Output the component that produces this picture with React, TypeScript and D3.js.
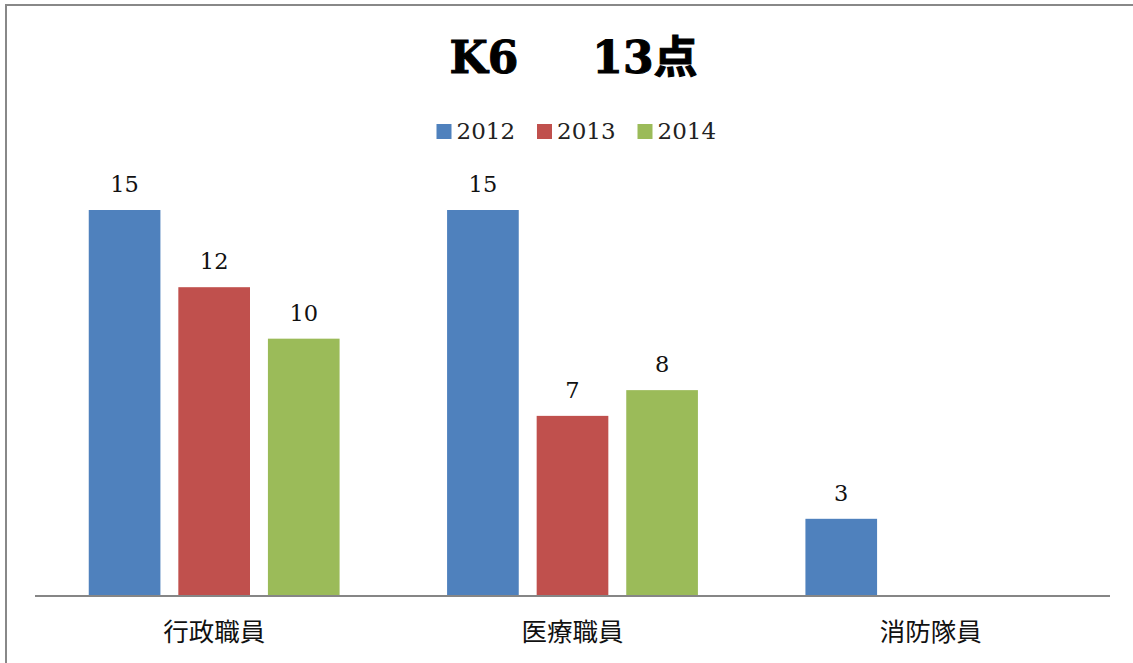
import React from 'react';
import * as d3 from 'd3';

const categories = ['行政職員', '医療職員', '消防隊員'];
const years = ['2012', '2013', '2014'];
const values2012 = [15, 15, 3];
const values2013 = [12, 7, null];
const values2014 = [10, 8, null];
const colors = ['#4F81BD', '#C0504D', '#9BBB59'];

const serif = '"DejaVu Serif", "Noto Sans CJK JP", serif';
const sans = '"Noto Sans CJK JP", "Noto Sans", sans-serif';

export default function App() {
  const width = 1133, height = 663;
  const series = [values2012, values2013, values2014];

  // chart area
  const left = 35, right = 1110, base = 596;

  const x = d3.scaleBand().domain(categories).range([left, right]).padding(0);
  const xs = d3.scaleBand().domain(years).range([0, x.bandwidth()])
    .paddingInner(0.2).paddingOuter(0.6);
  const y = d3.scaleLinear().domain([0, 15]).range([base, 210]);

  const mid = (left + right) / 2;
  const legendStep = 100.5;

  return (
    <svg width={width} height={height}
      style={{ position: 'fixed', left: 0, top: 0, background: '#fff' }}>
      <rect x={6} y={5} width={1140} height={700} fill="#fff" stroke="#888" strokeWidth={2} />

      {/* title */}
      <text x={mid + 1} y={73} textAnchor="middle" fontFamily={serif}
        fontWeight="bold" fontSize={44} stroke="#000" strokeWidth={1}>
        <tspan>K6</tspan>
        <tspan dx={74}>13点</tspan>
      </text>

      {/* legend */}
      {years.map((yr, i) => {
        const lx = mid - 136 + i * legendStep;
        return (
          <g key={yr} transform={`translate(${lx},0)`}>
            <rect x={0} y={124} width={15} height={15} fill={colors[i]} />
            <text x={20} y={139} fontFamily={serif} fontSize={23} fill="#222">{yr}</text>
          </g>
        );
      })}

      {/* bars */}
      {categories.map((c, ci) => (
        <g key={c} transform={`translate(${x(c)},0)`}>
          {years.map((yr, si) => {
            const v = series[si][ci];
            if (v == null) return null;
            const bx = xs(yr) as number;
            return (
              <g key={yr}>
                <rect x={bx} y={y(v)} width={xs.bandwidth()} height={base - y(v)} fill={colors[si]} />
                <text x={bx + xs.bandwidth() / 2} y={y(v) - 18} textAnchor="middle"
                  fontFamily={serif} fontSize={22.5} fill="#111">{v}</text>
              </g>
            );
          })}
        </g>
      ))}

      {/* axis */}
      <line x1={left} x2={right} y1={base} y2={base} stroke="#868686" strokeWidth={2} />
      {categories.map(c => (
        <text key={c} x={(x(c) as number) + x.bandwidth() / 2} y={641} textAnchor="middle"
          fontFamily={sans} fontSize={25.5} fill="#111">{c}</text>
      ))}
    </svg>
  );
}
